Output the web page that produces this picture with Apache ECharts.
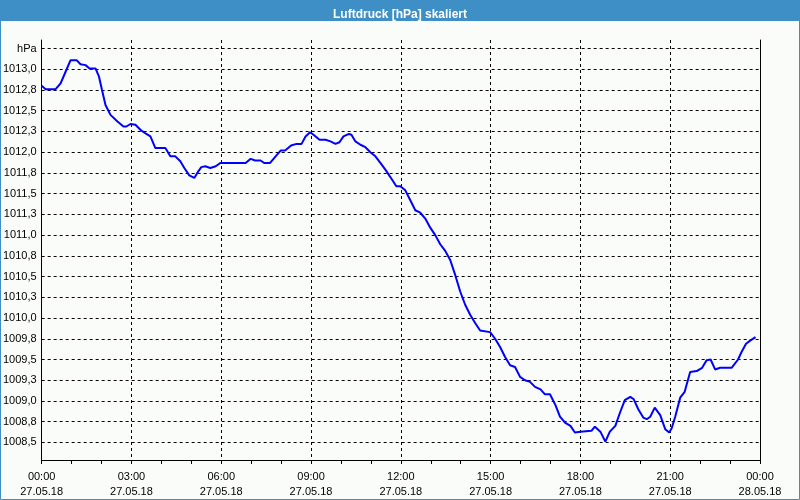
<!DOCTYPE html>
<html>
<head>
<meta charset="utf-8">
<script src="https://cdn.jsdelivr.net/npm/echarts@6/dist/echarts.min.js"></script>
<style>
html,body{margin:0;padding:0;background:#fafcfa;}
#chart{width:800px;height:500px;}
</style>
</head>
<body>
<div id="chart"></div>
<script>
// Sample times (27.05.18) and pressure values in hPa
var times = ["00:00","00:08","00:28","00:38","00:48","00:58","01:10","01:18","01:28","01:36","01:48","01:55",
"02:01","02:08","02:18","02:32","02:44","02:50","02:58","03:08","03:18","03:30","03:38","03:48","04:08","04:18",
"04:28","04:38","04:46","04:56","05:06","05:12","05:20","05:28","05:38","05:49","05:58","06:49","06:59","07:08",
"07:19","07:26","07:38","07:49","07:59","08:08","08:20","08:31","08:41","08:49","08:58","09:05","09:17","09:29",
"09:39","09:49","09:57","10:05","10:16","10:21","10:29","10:39","10:49","10:59","11:09","11:19","11:29","11:39",
"11:51","11:59","12:09","12:19","12:29","12:39","12:49","12:59","13:09","13:19","13:29","13:39","13:49","13:59",
"14:09","14:19","14:29","14:39","14:59","15:09","15:19","15:29","15:39","15:49","15:59","16:09","16:19","16:29",
"16:40","16:49","16:59","17:10","17:19","17:29","17:40","17:49","18:00","18:22","18:29","18:40","18:50","18:59",
"19:10","19:20","19:29","19:40","19:47","19:56","20:06","20:13","20:20","20:29","20:40","20:50","20:58","21:03",
"21:10","21:20","21:29","21:40","21:53","22:04","22:13","22:21","22:30","22:40","23:03","23:16","23:23","23:32",
"23:41","23:51"];
var pressure = [1012.80,1012.76,1012.76,1012.83,1012.97,1013.11,1013.11,1013.06,1013.05,1013.01,1013.01,1012.91,
1012.75,1012.57,1012.45,1012.37,1012.31,1012.31,1012.34,1012.33,1012.27,1012.22,1012.19,1012.05,1012.05,1011.95,
1011.95,1011.89,1011.81,1011.72,1011.69,1011.75,1011.82,1011.83,1011.81,1011.83,1011.87,1011.87,1011.92,1011.90,
1011.90,1011.87,1011.87,1011.95,1012.02,1012.02,1012.08,1012.10,1012.10,1012.19,1012.24,1012.21,1012.15,1012.15,
1012.13,1012.10,1012.12,1012.19,1012.22,1012.21,1012.13,1012.09,1012.06,1012.00,1011.95,1011.87,1011.79,1011.70,
1011.59,1011.59,1011.54,1011.42,1011.30,1011.27,1011.20,1011.09,1011.00,1010.89,1010.81,1010.70,1010.52,1010.32,
1010.16,1010.04,1009.94,1009.85,1009.83,1009.75,1009.65,1009.53,1009.43,1009.41,1009.29,1009.25,1009.23,1009.17,
1009.14,1009.08,1009.08,1008.95,1008.81,1008.74,1008.70,1008.62,1008.63,1008.64,1008.69,1008.63,1008.51,1008.63,
1008.70,1008.87,1009.01,1009.05,1009.02,1008.90,1008.80,1008.78,1008.81,1008.92,1008.83,1008.66,1008.62,1008.67,
1008.81,1009.04,1009.11,1009.35,1009.36,1009.40,1009.49,1009.50,1009.38,1009.40,1009.40,1009.50,1009.59,1009.69,
1009.73,1009.77];
// Axis tick values
var yTicks = [1008.5,1008.75,1009.0,1009.25,1009.5,1009.75,1010.0,1010.25,1010.5,1010.75,1011.0,1011.25,1011.5,1011.75,1012.0,1012.25,1012.5,1012.75,1013.0,1013.25];
var unitLabel = "hPa";
var titleText = "Luftdruck [hPa] skaliert";
var dayLabels = ["27.05.18","28.05.18"];

function toHours(t){ var p=t.split(':'); return (+p[0]) + (+p[1])/60; }
var data = times.map(function(t,i){ return [toHours(t), pressure[i]]; });

var chart = echarts.init(document.getElementById('chart'), null, {renderer:'canvas'});
var font = 'Liberation Sans, Arial, sans-serif';
var dashed = {color:'#000', width:1, type:[3,3]};
chart.setOption({
  animation:false,
  backgroundColor:'#fafcfa',
  title:{text:titleText, left:'center', top:4, textStyle:{color:'#fff', fontSize:12, fontWeight:'bold', fontFamily:font}},
  graphic:[
    {type:'rect', z:-10, shape:{x:0,y:0,width:800,height:21}, style:{fill:'#3d8fc6'}},
    {type:'rect', z:-10, shape:{x:0.5,y:0.5,width:799,height:499}, style:{fill:null, stroke:'#3d8fc6', lineWidth:1}}
  ],
  grid:{left:41, right:40, top:40, bottom:40, containLabel:false},
  xAxis:{
    type:'value', min:0, max:24, interval:3,
    axisLine:{show:true, onZero:false, lineStyle:{color:'#000', width:1}},
    axisTick:{show:true, length:4, lineStyle:{color:'#000'}},
    minorTick:{show:true, splitNumber:3, length:4, lineStyle:{color:'#000'}},
    minorSplitLine:{show:false},
    splitLine:{show:true, lineStyle:dashed},
    axisLabel:{
      margin:9, color:'#000', fontSize:11, fontFamily:font, lineHeight:15,
      showMinLabel:true, showMaxLabel:true,
      formatter:function(v){
        var h = Math.round(v)%24;
        var hh = (h<10?'0':'')+h+':00';
        return hh + '\n' + (v>=24 ? dayLabels[1] : dayLabels[0]);
      }
    }
  },
  yAxis:[{
    type:'value', min:1008.288, max:1013.353,
    axisLine:{show:true, onZero:false, lineStyle:{color:'#000', width:1}},
    axisTick:{show:false, customValues:yTicks},
    splitLine:{show:true, lineStyle:dashed},
    axisLabel:{
      customValues:yTicks, margin:5, color:'#000', fontSize:11, fontFamily:font,
      formatter:function(v){
        if (v > 1013.1) return unitLabel;
        return v.toFixed(1).replace('.', ',');
      }
    }
  },{
    type:'value', position:'right', min:1008.288, max:1013.353,
    axisLine:{show:true, onZero:false, lineStyle:{color:'#000', width:1}},
    axisTick:{show:false}, axisLabel:{show:false}, splitLine:{show:false}
  }],
  series:[{
    type:'line', data:data, showSymbol:false, symbol:'none',
    lineStyle:{color:'#0000ff', width:2}, clip:true
  }]
});
</script>
</body>
</html>
